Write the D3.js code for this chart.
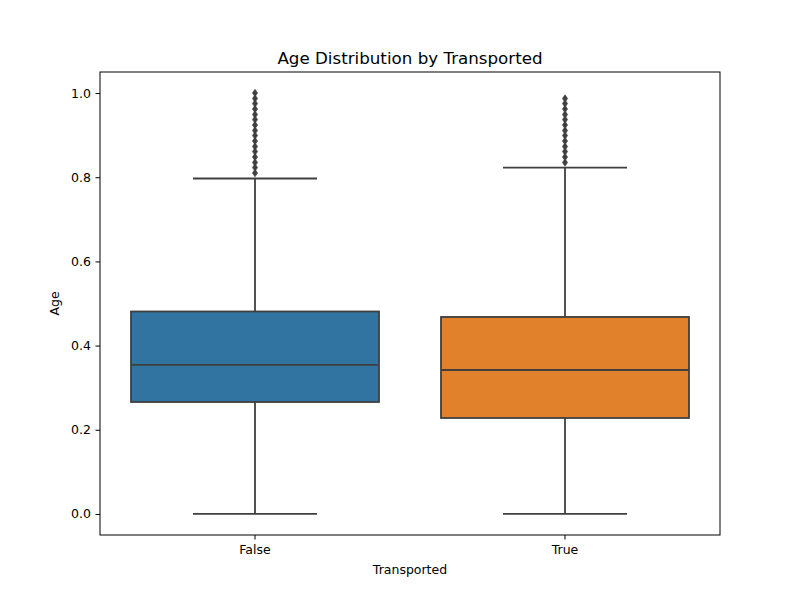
<!DOCTYPE html>
<html><head><meta charset="utf-8">
<script src="https://cdn.jsdelivr.net/npm/d3@7"></script>
<style>body{margin:0;background:#fff;} text{font-family:"DejaVu Sans",sans-serif;fill:#000;}</style>
</head><body>
<svg id="c" width="800" height="600"></svg>
<script>
const categories = ["False", "True"];
const q1 = [0.266, 0.228];
const median = [0.354, 0.342];
const q3 = [0.481, 0.468];
const whiskerLow = [0.0, 0.0];
const whiskerHigh = [0.797, 0.823];
const fliersFalse = [0.810, 0.823, 0.835, 0.848, 0.861, 0.873, 0.886, 0.899, 0.911, 0.924, 0.937, 0.949, 0.962, 0.975, 0.987, 1.000];
const fliersTrue = [0.835, 0.848, 0.861, 0.873, 0.886, 0.899, 0.911, 0.924, 0.937, 0.949, 0.962, 0.975, 0.987];
const fliers = [fliersFalse, fliersTrue];
const colors = ["#3274a1", "#e1812c"];
const yTicks = [0.0, 0.2, 0.4, 0.6, 0.8, 1.0];

const svg = d3.select("#c");
const L = 100, R = 720, T = 72, B = 535;
const x = d3.scaleBand().domain(categories).range([L, R]).paddingInner(0).paddingOuter(0);
const y = d3.scaleLinear().domain([-0.05, 1.05]).range([B, T]);
const lc = "#3f3f3f";
const bw = x.bandwidth() * 0.8;

categories.forEach((c, i) => {
  const cx = x(c) + x.bandwidth() / 2;
  const g = svg.append("g");
  g.append("line").attr("x1", cx).attr("x2", cx).attr("y1", y(q3[i])).attr("y2", y(whiskerHigh[i])).attr("stroke", lc).attr("stroke-width", 1.8);
  g.append("line").attr("x1", cx).attr("x2", cx).attr("y1", y(q1[i])).attr("y2", y(whiskerLow[i])).attr("stroke", lc).attr("stroke-width", 1.8);
  [whiskerHigh[i], whiskerLow[i]].forEach(v => {
    g.append("line").attr("x1", cx - bw / 4).attr("x2", cx + bw / 4).attr("y1", y(v)).attr("y2", y(v)).attr("stroke", lc).attr("stroke-width", 1.8);
  });
  g.append("rect").attr("x", cx - bw / 2).attr("width", bw).attr("y", y(q3[i])).attr("height", y(q1[i]) - y(q3[i]))
    .attr("fill", colors[i]).attr("stroke", lc).attr("stroke-width", 1.8);
  g.append("line").attr("x1", cx - bw / 2).attr("x2", cx + bw / 2).attr("y1", y(median[i])).attr("y2", y(median[i])).attr("stroke", lc).attr("stroke-width", 1.8);
  g.selectAll("path.f").data(fliers[i]).enter().append("path")
    .attr("d", "M0,-3.8L2.6,0L0,3.8L-2.6,0Z")
    .attr("transform", d => `translate(${cx},${y(d)})`)
    .attr("fill", lc).attr("stroke", lc).attr("stroke-width", 0.6);
});

svg.append("rect").attr("x", L).attr("y", T).attr("width", R - L).attr("height", B - T).attr("fill", "none").attr("stroke", "#000").attr("stroke-width", 1);

const yAxis = d3.axisLeft(y).tickValues(yTicks).tickFormat(d3.format(".1f")).tickSize(4.5).tickPadding(4.5);
const ya = svg.append("g").attr("transform", `translate(${L},0)`).call(yAxis);
ya.select(".domain").remove();
ya.selectAll("text").style("font-size", "12.5px").style("font-family", "DejaVu Sans");
ya.selectAll("line").attr("stroke", "#000");

const xAxis = d3.axisBottom(x).tickSize(4.5).tickPadding(6);
const xa = svg.append("g").attr("transform", `translate(0,${B})`).call(xAxis);
xa.select(".domain").remove();
xa.selectAll("text").style("font-size", "12.5px").style("font-family", "DejaVu Sans");
xa.selectAll("line").attr("stroke", "#000");

svg.append("text").attr("x", (L + R) / 2).attr("y", 574).attr("text-anchor", "middle").style("font-size", "12.5px").text("Transported");
svg.append("text").attr("transform", `translate(59,${(T + B) / 2}) rotate(-90)`).attr("text-anchor", "middle").style("font-size", "12.5px").text("Age");
svg.append("text").attr("x", (L + R) / 2).attr("y", 64).attr("text-anchor", "middle").style("font-size", "16.7px").text("Age Distribution by Transported");
</script>
</body></html>
